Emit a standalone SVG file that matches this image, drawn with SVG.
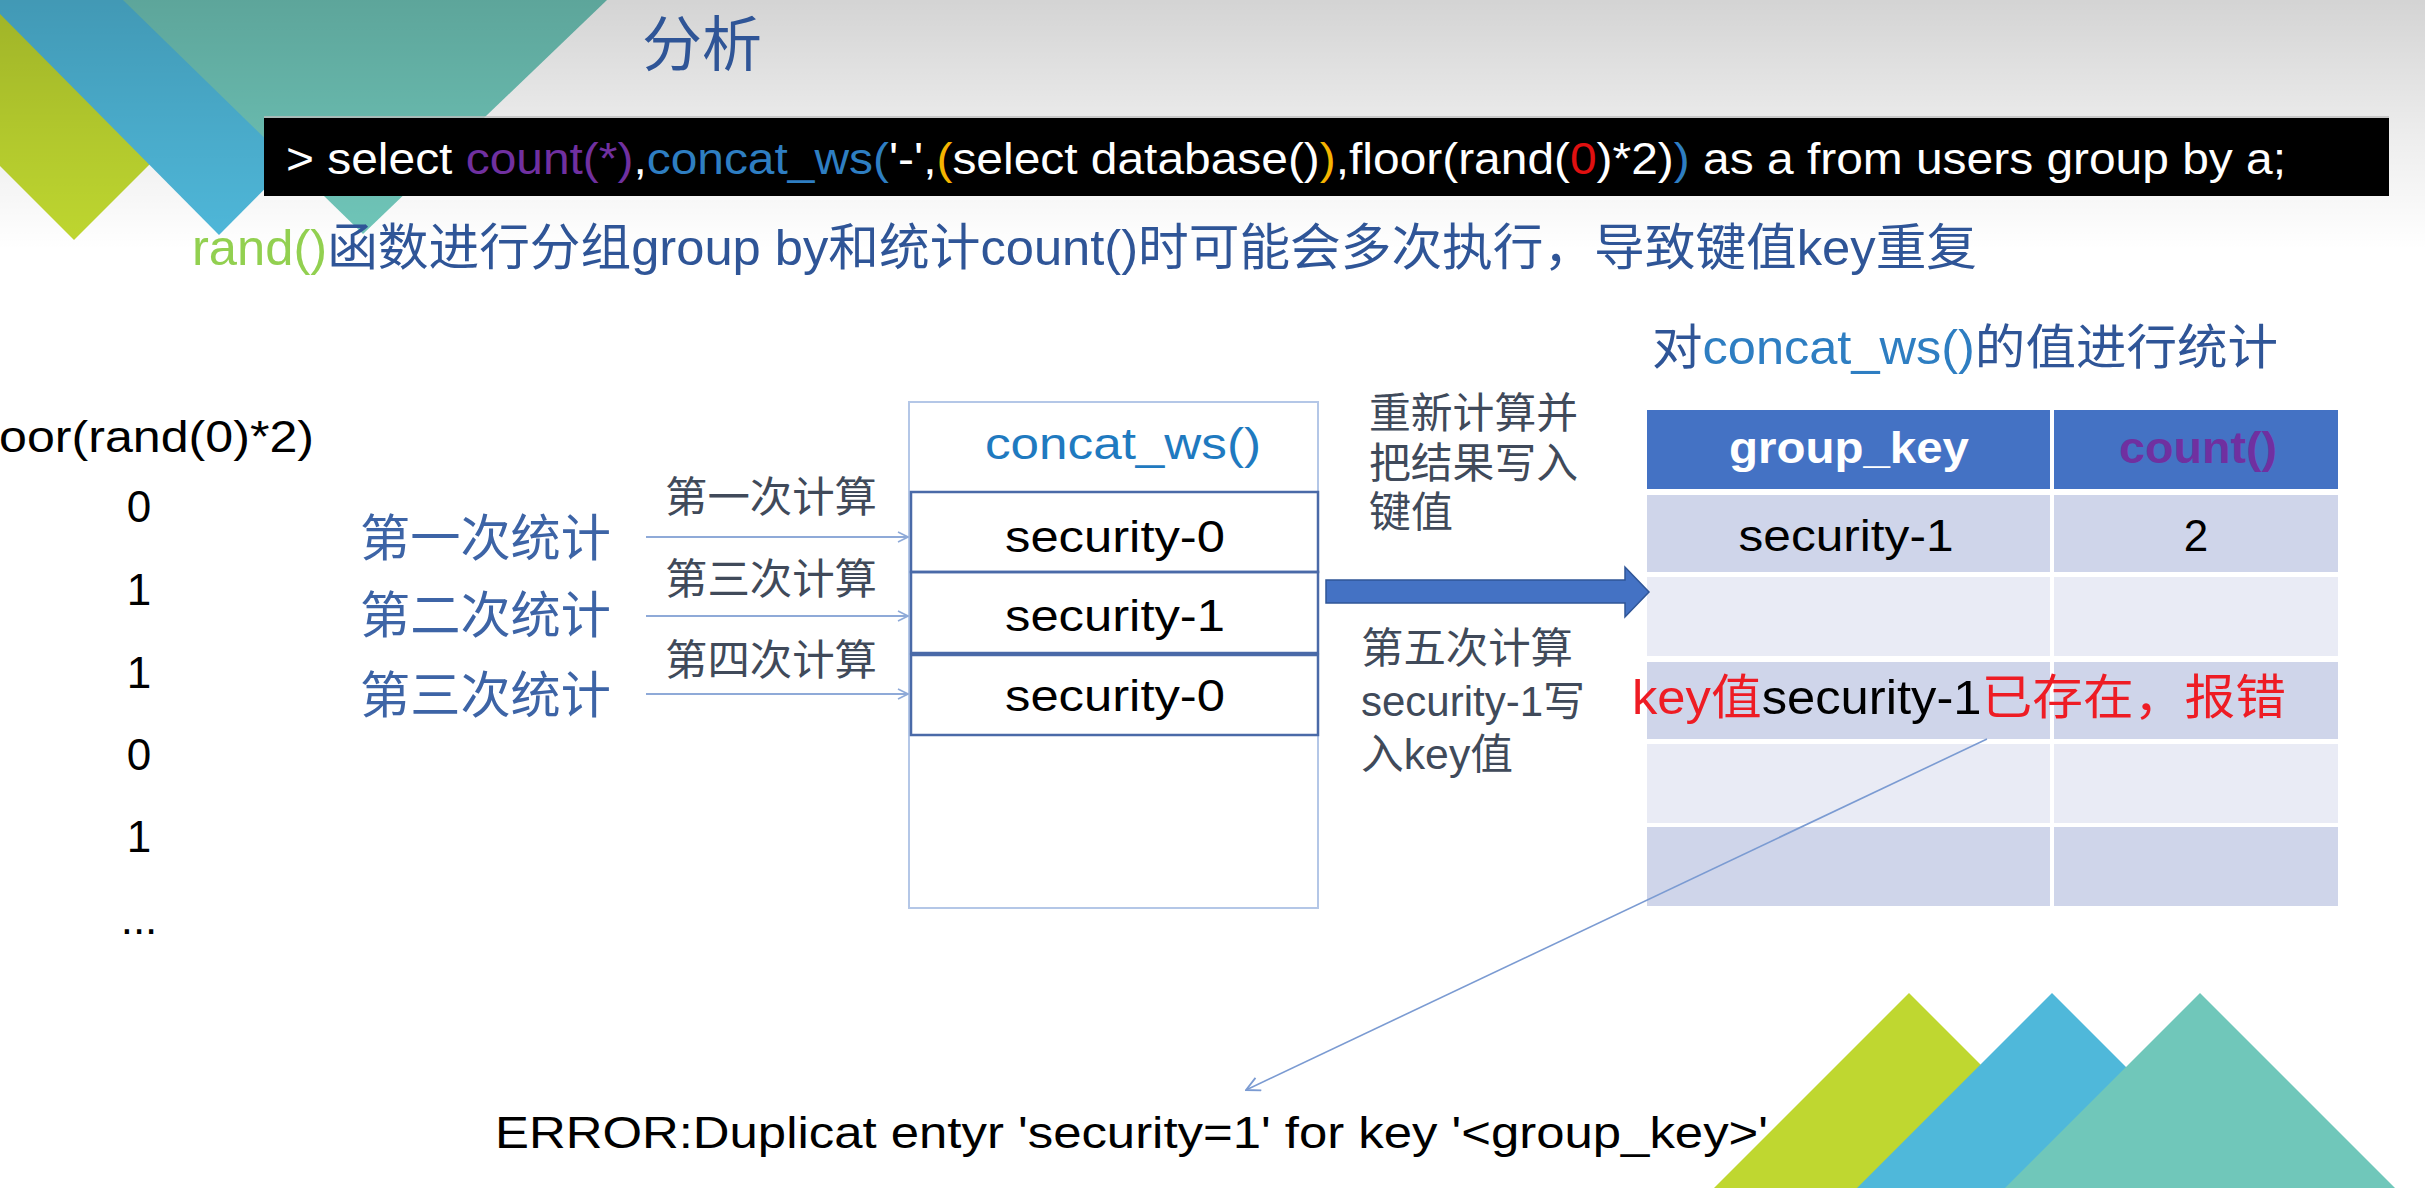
<svg xmlns="http://www.w3.org/2000/svg" width="2425" height="1188" viewBox="0 0 2425 1188">
  <defs>
    <linearGradient id="topShade" x1="0" y1="0" x2="0" y2="1">
      <stop offset="0" stop-color="#000" stop-opacity="0.17"/>
      <stop offset="0.55" stop-color="#000" stop-opacity="0.07"/>
      <stop offset="1" stop-color="#000" stop-opacity="0"/>
    </linearGradient>
    <marker id="openHead" viewBox="0 0 12 12" refX="11" refY="6" markerWidth="12" markerHeight="12" markerUnits="userSpaceOnUse" orient="auto">
      <path d="M1,1 L11,6 L1,11" fill="none" stroke="#8faad8" stroke-width="1.6"/>
    </marker>
    <marker id="openHeadLong" viewBox="0 0 14 14" refX="13" refY="7" markerWidth="16" markerHeight="16" markerUnits="userSpaceOnUse" orient="auto">
      <path d="M1,1 L13,7 L1,13" fill="none" stroke="#7b9bd2" stroke-width="1.6"/>
    </marker>
  </defs>
  <style>
    text { font-family: "Liberation Sans", "Noto Sans CJK SC", sans-serif; }
    .lime { fill: #bfd730; }
    .sky { fill: #4fb8da; }
    .teal { fill: #70c7ba; }
    .navy { fill: #2f5597; }
    .label { fill: #3d64a6; font-size: 50px; }
    .step { fill: #404a5a; font-size: 42px; }
    .mono { fill: #000; font-size: 44px; }
    .thin { stroke: #8faad8; stroke-width: 1.8; fill: none; }
    .row { fill: none; stroke: #4a6aa8; stroke-width: 2.5; }
    .cellDark { fill: #cfd5ea; }
    .cellLight { fill: #e9ebf5; }
    .red { fill: #ee1c24; }
  </style>

  <!-- page background -->
  <rect x="0" y="0" width="2425" height="1188" fill="#ffffff"/>

  <!-- decorative triangles, top left -->
  <g id="deco-top">
    <polygon class="lime" points="-166,0 314,0 74,240"/>
    <polygon class="sky" points="-14,0 452,0 219,235"/>
    <polygon class="teal" points="123,0 607,0 363,234"/>
  </g>

  <!-- decorative triangles, bottom right -->
  <g id="deco-bottom">
    <polygon class="lime" points="1714,1188 1909,993 2104,1188"/>
    <polygon class="sky" points="1857,1188 2052,993 2247,1188"/>
    <polygon class="teal" points="2005,1188 2200,993 2395,1188"/>
  </g>

  <!-- header shading -->
  <rect x="0" y="0" width="2425" height="250" fill="url(#topShade)"/>

  <!-- title -->
  <g id="title">
    <text x="642" y="66" font-size="60" class="navy">分析</text>
  </g>

  <!-- SQL statement bar -->
  <g id="sql">
    <rect x="264" y="118" width="2125" height="78" fill="#000"/>
    <line x1="264" y1="117" x2="2389" y2="117" stroke="#bdbdbd" stroke-width="1.5"/>
    <text x="286" y="174" font-size="44" fill="#fff" textLength="2000" lengthAdjust="spacingAndGlyphs">&gt; select <tspan fill="#7030a0">count(*)</tspan>,<tspan fill="#2e7ec2">concat_ws(</tspan>'-',<tspan fill="#f5b400">(</tspan>select database()<tspan fill="#f5b400">)</tspan>,floor(rand(<tspan fill="#e01010">0</tspan>)*2)<tspan fill="#2e7ec2">)</tspan> as a from users group by a;</text>
  </g>

  <!-- explanation line -->
  <g id="note">
    <text x="192" y="265" font-size="50" class="navy" textLength="1785" lengthAdjust="spacingAndGlyphs"><tspan fill="#92d050">rand()</tspan>函数进行分组group by和统计count()时可能会多次执行，导致键值key重复</text>
  </g>

  <!-- random value column -->
  <g id="rand-column">
    <text x="-26" y="452" font-size="44" fill="#000" textLength="340" lengthAdjust="spacingAndGlyphs">floor(rand(0)*2)</text>
    <g font-size="44" fill="#000" text-anchor="middle">
      <text x="139" y="522">0</text>
      <text x="139" y="605">1</text>
      <text x="139" y="688">1</text>
      <text x="139" y="770">0</text>
      <text x="139" y="852">1</text>
      <text x="139" y="934">...</text>
    </g>
  </g>

  <!-- count passes -->
  <g id="pass-1"><text x="360" y="556" class="label" textLength="251" lengthAdjust="spacingAndGlyphs">第一次统计</text></g>
  <g id="pass-2"><text x="360" y="633" class="label" textLength="251" lengthAdjust="spacingAndGlyphs">第二次统计</text></g>
  <g id="pass-3"><text x="360" y="713" class="label" textLength="251" lengthAdjust="spacingAndGlyphs">第三次统计</text></g>

  <!-- concat_ws() value column -->
  <g id="concat-column">
    <rect x="909" y="402" width="409" height="506" fill="#fff" stroke="#b4c7e7" stroke-width="2"/>
    <text x="985" y="459" font-size="44" fill="#1f7ac0" textLength="276" lengthAdjust="spacingAndGlyphs">concat_ws()</text>
    <rect class="row" x="911" y="492" width="407" height="80"/>
    <rect class="row" x="911" y="572" width="407" height="81"/>
    <rect class="row" x="911" y="655" width="407" height="80"/>
    <text x="1005" y="552" class="mono" textLength="220" lengthAdjust="spacingAndGlyphs">security-0</text>
    <text x="1005" y="631" class="mono" textLength="220" lengthAdjust="spacingAndGlyphs">security-1</text>
    <text x="1005" y="711" class="mono" textLength="220" lengthAdjust="spacingAndGlyphs">security-0</text>
  </g>

  <!-- group_key / count() table -->
  <g id="group-table">
    <text x="1652" y="364" font-size="48" class="navy" textLength="626" lengthAdjust="spacingAndGlyphs">对<tspan fill="#2e7ec2">concat_ws()</tspan>的值进行统计</text>
    <rect x="1647" y="410" width="403" height="79" fill="#4472c4"/>
    <rect x="2054" y="410" width="284" height="79" fill="#4472c4"/>
    <rect class="cellDark" x="1647" y="495" width="403" height="77"/>
    <rect class="cellDark" x="2054" y="495" width="284" height="77"/>
    <rect class="cellLight" x="1647" y="577" width="403" height="79"/>
    <rect class="cellLight" x="2054" y="577" width="284" height="79"/>
    <rect class="cellDark" x="1647" y="662" width="403" height="77"/>
    <rect class="cellDark" x="2054" y="662" width="284" height="77"/>
    <rect class="cellLight" x="1647" y="744" width="403" height="79"/>
    <rect class="cellLight" x="2054" y="744" width="284" height="79"/>
    <rect class="cellDark" x="1647" y="827" width="403" height="79"/>
    <rect class="cellDark" x="2054" y="827" width="284" height="79"/>
    <text x="1849" y="463" font-size="44" font-weight="bold" fill="#fff" text-anchor="middle" textLength="240" lengthAdjust="spacingAndGlyphs">group_key</text>
    <text x="2198" y="463" font-size="44" font-weight="bold" fill="#7030a0" text-anchor="middle" textLength="158" lengthAdjust="spacingAndGlyphs">count()</text>
    <text x="1846" y="551" class="mono" text-anchor="middle" textLength="215" lengthAdjust="spacingAndGlyphs">security-1</text>
    <text x="2196" y="551" class="mono" text-anchor="middle">2</text>
    <text x="1632" y="714" font-size="48" class="red" textLength="654" lengthAdjust="spacingAndGlyphs">key值<tspan fill="#000">security-1</tspan>已存在，报错</text>
  </g>

  <!-- step annotations -->
  <g id="calc-1"><text x="665" y="512" class="step" textLength="212" lengthAdjust="spacingAndGlyphs">第一次计算</text></g>
  <g id="calc-3"><text x="665" y="594" class="step" textLength="212" lengthAdjust="spacingAndGlyphs">第三次计算</text></g>
  <g id="calc-4"><text x="665" y="675" class="step" textLength="212" lengthAdjust="spacingAndGlyphs">第四次计算</text></g>

  <g id="rewrite-note" class="step">
    <text x="1369" y="428" textLength="209" lengthAdjust="spacingAndGlyphs">重新计算并</text>
    <text x="1369" y="478" textLength="209" lengthAdjust="spacingAndGlyphs">把结果写入</text>
    <text x="1369" y="527">键值</text>
  </g>

  <g id="fifth-note" class="step">
    <text x="1361" y="663" textLength="212" lengthAdjust="spacingAndGlyphs">第五次计算</text>
    <text x="1361" y="716" textLength="224" lengthAdjust="spacingAndGlyphs">security-1写</text>
    <text x="1361" y="769" textLength="152" lengthAdjust="spacingAndGlyphs">入key值</text>
  </g>

  <!-- error message -->
  <g id="error">
    <text x="495" y="1148" font-size="44" fill="#000" textLength="1273" lengthAdjust="spacingAndGlyphs">ERROR:Duplicat entyr 'security=1' for key '&lt;group_key&gt;'</text>
  </g>

  <!-- connectors -->
  <g id="connectors">
    <line class="thin" x1="646" y1="537" x2="908" y2="537" marker-end="url(#openHead)"/>
    <line class="thin" x1="646" y1="616" x2="908" y2="616" marker-end="url(#openHead)"/>
    <line class="thin" x1="646" y1="694" x2="908" y2="694" marker-end="url(#openHead)"/>
    <polygon points="1326,580 1625,580 1625,567 1649,592 1625,617 1625,603 1326,603" fill="#4472c4" stroke="#2f5597" stroke-width="1.5"/>
    <line x1="1987" y1="739" x2="1246" y2="1090" stroke="#7b9bd2" stroke-width="1.6" marker-end="url(#openHeadLong)"/>
  </g>
</svg>
